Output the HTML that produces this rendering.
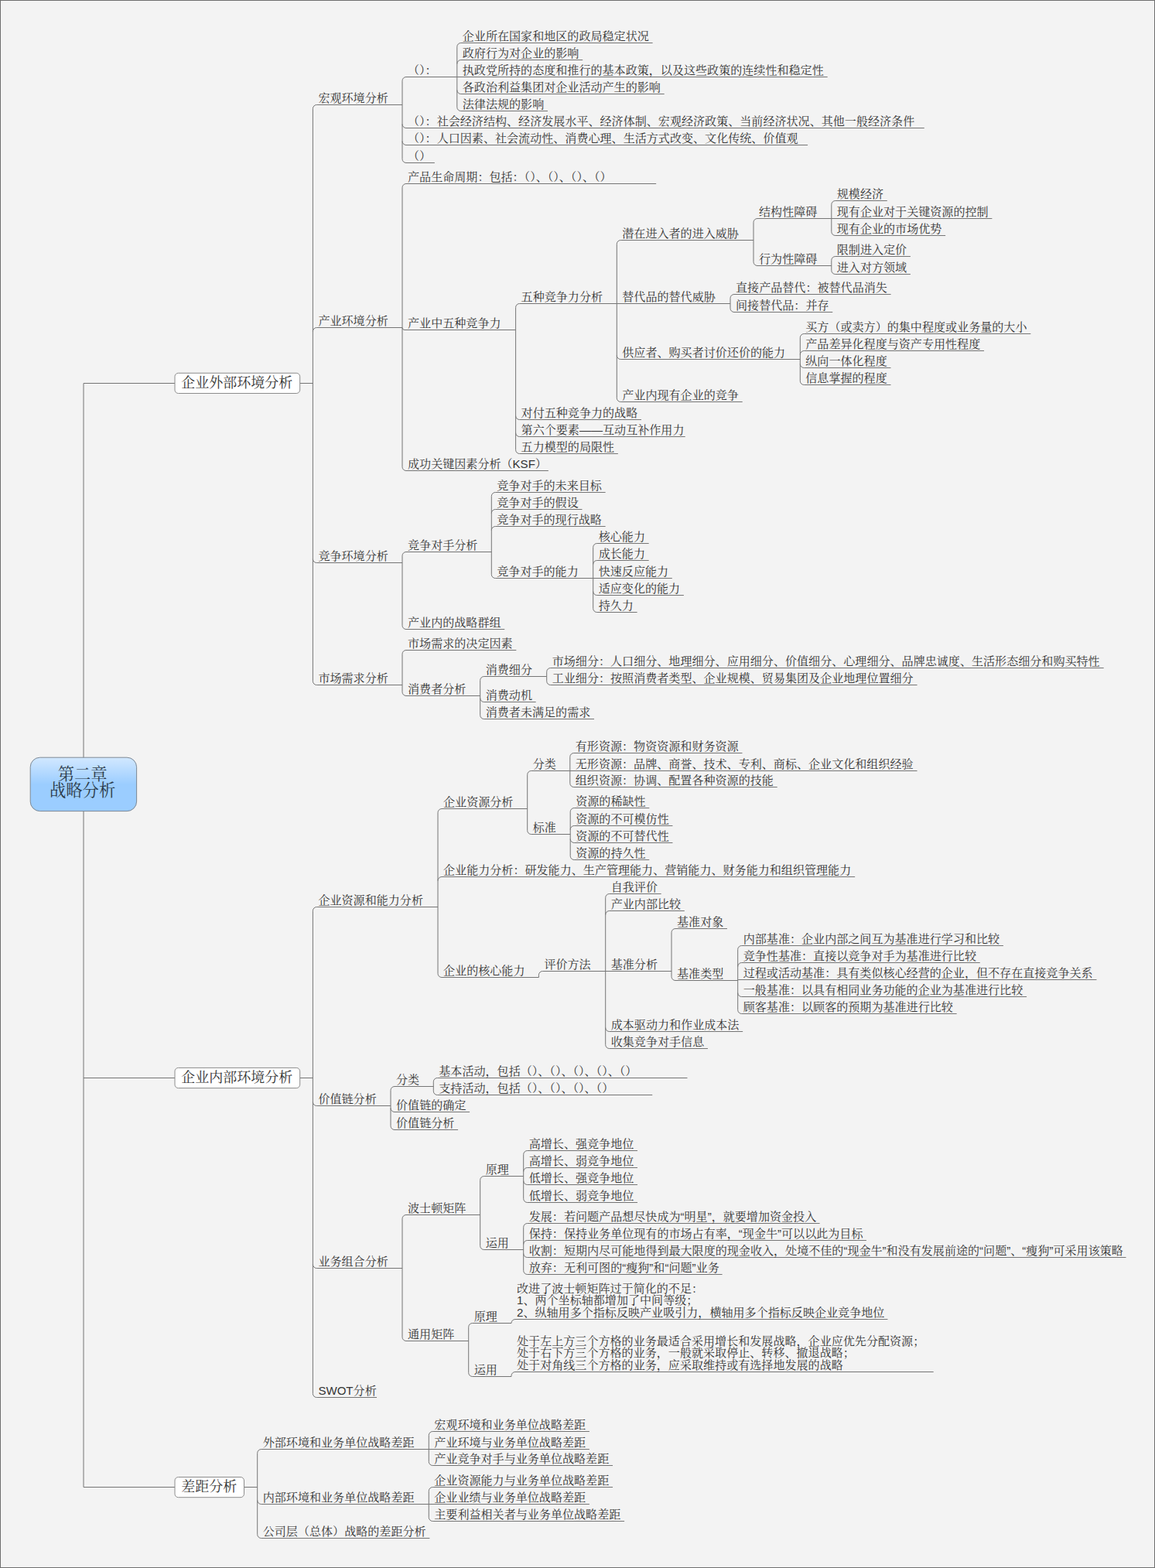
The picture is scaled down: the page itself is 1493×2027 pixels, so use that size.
<!DOCTYPE html>
<html lang="zh"><head><meta charset="utf-8"><title>第二章 战略分析</title>
<style>
html,body{margin:0;padding:0}
body{width:1493px;height:2027px;background:#f3f3f3;position:relative;overflow:hidden;font-family:"Liberation Serif",serif}
#f{position:absolute;left:0;top:0;width:1493px;height:2027px;box-sizing:border-box;border:1px solid #6e6e6e;pointer-events:none}
svg{position:absolute;left:0;top:0}
#t div{position:absolute;white-space:nowrap;color:#333;line-height:1;font-family:"Liberation Sans","Noto Serif CJK SC",serif}
</style></head><body>
<svg width="1493" height="2027" viewBox="0 0 1493 2027">
<defs><linearGradient id="rg" x1="0" y1="0" x2="0" y2="1"><stop offset="0" stop-color="#d2e8ff"/><stop offset="0.5" stop-color="#9bcdff"/><stop offset="1" stop-color="#9bcdff"/></linearGradient></defs>
<path fill="none" stroke="#757575" stroke-width="1" d="M108 495.5H226M387.7 495.5H404.4M404.4 140.5V880.5M404.4 140.5A5 5 0 0 1 409.4 135.5H520M520 104.5V205.5M520 104.5A5 5 0 0 1 525 99.5H590.8M590.8 60.5V138.5M590.8 60.5A5 5 0 0 1 595.8 55.5H843.62M590.8 82.5A5 5 0 0 1 595.8 77.5H753.2M590.8 99.5H1069.67M590.8 116.5A5 5 0 0 0 595.8 121.5H858.69M590.8 138.5A5 5 0 0 0 595.8 143.5H707.99M520 160.5A5 5 0 0 0 525 165.5H1194.78M520 182.5A5 5 0 0 0 525 187.5H1044.08M520 205.5A5 5 0 0 0 525 210.5H561.84M404.4 428.5A5 5 0 0 1 409.4 423.5H520M520 242.5V603.5M520 242.5A5 5 0 0 1 525 237.5H848.17M520 423.5A3 3 0 0 0 523 426.5H666.6M666.6 397.5V581.5M666.6 397.5A5 5 0 0 1 671.6 392.5H797.3M797.3 315.5V514.5M797.3 315.5A5 5 0 0 1 802.3 310.5H974M974 287.5V338.5M974 287.5A5 5 0 0 1 979 282.5H1074.8M1074.8 264.5V299.5M1074.8 264.5A5 5 0 0 1 1079.8 259.5H1146.78M1074.8 282.5H1282.41M1074.8 299.5A5 5 0 0 0 1079.8 304.5H1222.13M974 338.5A5 5 0 0 0 979 343.5H1074.8M1074.8 336.5V349.5M1074.8 336.5A5 5 0 0 1 1079.8 331.5H1176.92M1074.8 349.5A5 5 0 0 0 1079.8 354.5H1176.92M797.3 392.5H944M944 385.5V398.5M944 385.5A5 5 0 0 1 949 380.5H1151.61M944 398.5A5 5 0 0 0 949 403.5H1076.26M797.3 459.5A5 5 0 0 0 802.3 464.5H1034.3M1034.3 436.5V492.5M1034.3 436.5A5 5 0 0 1 1039.3 431.5H1332.33M1034.3 458.5A5 5 0 0 1 1039.3 453.5H1272.05M1034.3 470.5A5 5 0 0 0 1039.3 475.5H1151.49M1034.3 492.5A5 5 0 0 0 1039.3 497.5H1151.49M797.3 514.5A5 5 0 0 0 802.3 519.5H959.7M666.6 537.5A5 5 0 0 0 671.6 542.5H829M666.6 559.5A5 5 0 0 0 671.6 564.5H885.69M666.6 581.5A5 5 0 0 0 671.6 586.5H798.86M520 603.5A5 5 0 0 0 525 608.5H708.87M404.4 722.5A5 5 0 0 0 409.4 727.5H520M520 718.5V808.5M520 718.5A5 5 0 0 1 525 713.5H635.3M635.3 641.5V742.5M635.3 641.5A5 5 0 0 1 640.3 636.5H782.63M635.3 663.5A5 5 0 0 1 640.3 658.5H752.49M635.3 685.5A5 5 0 0 1 640.3 680.5H782.63M635.3 742.5A5 5 0 0 0 640.3 747.5H766.7M766.7 707.5V786.5M766.7 707.5A5 5 0 0 1 771.7 702.5H838.68M766.7 729.5A5 5 0 0 1 771.7 724.5H838.68M766.7 747.5H868.82M766.7 764.5A5 5 0 0 0 771.7 769.5H883.89M766.7 786.5A5 5 0 0 0 771.7 791.5H823.61M520 808.5A5 5 0 0 0 525 813.5H652.26M404.4 880.5A5 5 0 0 0 409.4 885.5H520M520 845.5V894.5M520 845.5A5 5 0 0 1 525 840.5H667.33M520 894.5A5 5 0 0 0 525 899.5H620.7M620.7 879.5V924.5M620.7 879.5A5 5 0 0 1 625.7 874.5H706.7M706.7 868.5V880.5M706.7 868.5A5 5 0 0 1 711.7 863.5H1426.69M706.7 880.5A5 5 0 0 0 711.7 885.5H1185.57M620.7 902.5A5 5 0 0 0 625.7 907.5H692.68M620.7 924.5A5 5 0 0 0 625.7 929.5H768.03M108 1393.5H226M387.7 1393.5H404.4M404.4 1177.5V1801.5M404.4 1177.5A5 5 0 0 1 409.4 1172.5H566M566 1050.5V1258.5M566 1050.5A5 5 0 0 1 571 1045.5H681.7M681.7 1001.5V1073.5M681.7 1001.5A5 5 0 0 1 686.7 996.5H736.8M736.8 978.5V1012.5M736.8 978.5A5 5 0 0 1 741.8 973.5H959.48M736.8 996.5H1185.53M736.8 1012.5A5 5 0 0 0 741.8 1017.5H1004.69M681.7 1073.5A5 5 0 0 0 686.7 1078.5H737.2M737.2 1049.5V1106.5M737.2 1049.5A5 5 0 0 1 742.2 1044.5H839.32M737.2 1072.5A5 5 0 0 1 742.2 1067.5H869.46M737.2 1084.5A5 5 0 0 0 742.2 1089.5H869.46M737.2 1106.5A5 5 0 0 0 742.2 1111.5H839.32M566 1138.5A5 5 0 0 1 571 1133.5H1105.15M566 1258.5A5 5 0 0 0 571 1263.5H696.4M696.4 1263.5V1260.5M696.4 1260.5A5 5 0 0 1 701.4 1255.5H782.7M782.7 1160.5V1350.5M782.7 1160.5A5 5 0 0 1 787.7 1155.5H854.68M782.7 1182.5A5 5 0 0 1 787.7 1177.5H884.82M782.7 1255.5H868M868 1205.5V1262.5M868 1205.5A5 5 0 0 1 873 1200.5H939.98M868 1262.5A5 5 0 0 0 873 1267.5H953.7M953.7 1227.5V1305.5M953.7 1227.5A5 5 0 0 1 958.7 1222.5H1296.94M953.7 1249.5A5 5 0 0 1 958.7 1244.5H1266.8M953.7 1267.5A1 1 0 0 1 954.7 1266.5H1417.5M953.7 1283.5A5 5 0 0 0 958.7 1288.5H1327.08M953.7 1305.5A5 5 0 0 0 958.7 1310.5H1236.66M782.7 1328.5A5 5 0 0 0 787.7 1333.5H960.17M782.7 1350.5A5 5 0 0 0 787.7 1355.5H914.96M404.4 1424.5A5 5 0 0 0 409.4 1429.5H505M505 1409.5V1455.5M505 1409.5A5 5 0 0 1 510 1404.5H560.3M560.3 1398.5V1410.5M560.3 1398.5A5 5 0 0 1 565.3 1393.5H888.47M560.3 1410.5A5 5 0 0 0 565.3 1415.5H843.26M505 1432.5A5 5 0 0 0 510 1437.5H607.12M505 1455.5A5 5 0 0 0 510 1460.5H592.05M404.4 1634.5A5 5 0 0 0 409.4 1639.5H520M520 1575.5V1728.5M520 1575.5A5 5 0 0 1 525 1570.5H620.7M620.7 1525.5V1610.5M620.7 1525.5A5 5 0 0 1 625.7 1520.5H676.7M676.7 1492.5V1549.5M676.7 1492.5A5 5 0 0 1 681.7 1487.5H824.03M676.7 1514.5A5 5 0 0 1 681.7 1509.5H824.03M676.7 1526.5A5 5 0 0 0 681.7 1531.5H824.03M676.7 1549.5A5 5 0 0 0 681.7 1554.5H824.03M620.7 1610.5A5 5 0 0 0 625.7 1615.5H676.7M676.7 1586.5V1642.5M676.7 1586.5A5 5 0 0 1 681.7 1581.5H1059.64M676.7 1608.5A5 5 0 0 1 681.7 1603.5H1119.92M676.7 1620.5A5 5 0 0 0 681.7 1625.5H1455.52M676.7 1642.5A5 5 0 0 0 681.7 1647.5H933.58M520 1728.5A5 5 0 0 0 525 1733.5H605.7M605.7 1715.5V1774.5M605.7 1715.5A5 5 0 0 1 610.7 1710.5H661M661 1710.5V1710.5M661 1710.5A5 5 0 0 1 666 1705.5H1147.44M605.7 1774.5A5 5 0 0 0 610.7 1779.5H661M661 1779.5V1778.5M661 1778.5A5 5 0 0 1 666 1773.5H1206.7M404.4 1801.5A5 5 0 0 0 409.4 1806.5H487.06M108 1922.5H226M315.5 1922.5H332.7M332.7 1878.5V1983.5M332.7 1878.5A5 5 0 0 1 337.7 1873.5H554.3M554.3 1855.5V1889.5M554.3 1855.5A5 5 0 0 1 559.3 1850.5H761.91M554.3 1873.5H761.91M554.3 1889.5A5 5 0 0 0 559.3 1894.5H792.05M332.7 1939.5A5 5 0 0 0 337.7 1944.5H554.3M554.3 1927.5V1961.5M554.3 1927.5A5 5 0 0 1 559.3 1922.5H792.05M554.3 1944.5H761.91M554.3 1961.5A5 5 0 0 0 559.3 1966.5H807.12M332.7 1983.5A5 5 0 0 0 337.7 1988.5H555.38M108 495.5V1922.5"/>
<rect x="226" y="482.3" width="161.7" height="26.2" rx="4.5" fill="#fff" stroke="#8c8c8c" stroke-width="1"/>
<rect x="226" y="1380.4" width="161.7" height="26.2" rx="4.5" fill="#fff" stroke="#8c8c8c" stroke-width="1"/>
<rect x="226" y="1909.5" width="89.5" height="26.2" rx="4.5" fill="#fff" stroke="#8c8c8c" stroke-width="1"/>
<rect x="39.2" y="979.2" width="137.4" height="69.4" rx="12.5" fill="url(#rg)" stroke="#7c8894" stroke-width="1"/>
</svg>
<div id="t">
<div style="left:234.35px;top:485.5px;font-size:18px">企业外部环境分析</div>
<div style="left:411.4px;top:118.64px;font-size:15.07px">宏观环境分析</div>
<div style="left:527px;top:82.64px;font-size:15.07px">（）：</div>
<div style="left:597.8px;top:38.64px;font-size:15.07px">企业所在国家和地区的政局稳定状况</div>
<div style="left:597.8px;top:60.64px;font-size:15.07px">政府行为对企业的影响</div>
<div style="left:597.8px;top:82.64px;font-size:15.07px">执政党所持的态度和推行的基本政策，以及这些政策的连续性和稳定性</div>
<div style="left:597.8px;top:104.64px;font-size:15.07px">各政治利益集团对企业活动产生的影响</div>
<div style="left:597.8px;top:126.64px;font-size:15.07px">法律法规的影响</div>
<div style="left:527px;top:148.64px;font-size:15.07px">（）：社会经济结构、经济发展水平、经济体制、宏观经济政策、当前经济状况、其他一般经济条件</div>
<div style="left:527px;top:170.64px;font-size:15.07px">（）：人口因素、社会流动性、消费心理、生活方式改变、文化传统、价值观</div>
<div style="left:527px;top:193.64px;font-size:15.07px">（）</div>
<div style="left:411.4px;top:406.64px;font-size:15.07px">产业环境分析</div>
<div style="left:527px;top:220.64px;font-size:15.07px">产品生命周期：包括：（）、（）、（）、（）</div>
<div style="left:527px;top:409.64px;font-size:15.07px">产业中五种竞争力</div>
<div style="left:673.6px;top:375.64px;font-size:15.07px">五种竞争力分析</div>
<div style="left:804.3px;top:293.64px;font-size:15.07px">潜在进入者的进入威胁</div>
<div style="left:981px;top:265.64px;font-size:15.07px">结构性障碍</div>
<div style="left:1081.8px;top:242.64px;font-size:15.07px">规模经济</div>
<div style="left:1081.8px;top:265.64px;font-size:15.07px">现有企业对于关键资源的控制</div>
<div style="left:1081.8px;top:287.64px;font-size:15.07px">现有企业的市场优势</div>
<div style="left:981px;top:326.64px;font-size:15.07px">行为性障碍</div>
<div style="left:1081.8px;top:314.64px;font-size:15.07px">限制进入定价</div>
<div style="left:1081.8px;top:337.64px;font-size:15.07px">进入对方领域</div>
<div style="left:804.3px;top:375.64px;font-size:15.07px">替代品的替代威胁</div>
<div style="left:951px;top:363.64px;font-size:15.07px">直接产品替代：被替代品消失</div>
<div style="left:951px;top:386.64px;font-size:15.07px">间接替代品：并存</div>
<div style="left:804.3px;top:447.64px;font-size:15.07px">供应者、购买者讨价还价的能力</div>
<div style="left:1041.3px;top:414.64px;font-size:15.07px">买方（或卖方）的集中程度或业务量的大小</div>
<div style="left:1041.3px;top:436.64px;font-size:15.07px">产品差异化程度与资产专用性程度</div>
<div style="left:1041.3px;top:458.64px;font-size:15.07px">纵向一体化程度</div>
<div style="left:1041.3px;top:480.64px;font-size:15.07px">信息掌握的程度</div>
<div style="left:804.3px;top:502.64px;font-size:15.07px">产业内现有企业的竞争</div>
<div style="left:673.6px;top:525.64px;font-size:15.07px">对付五种竞争力的战略</div>
<div style="left:673.6px;top:547.64px;font-size:15.07px">第六个要素——互动互补作用力</div>
<div style="left:673.6px;top:569.64px;font-size:15.07px">五力模型的局限性</div>
<div style="left:527px;top:591.64px;font-size:15.07px">成功关键因素分析（KSF）</div>
<div style="left:411.4px;top:710.64px;font-size:15.07px">竞争环境分析</div>
<div style="left:527px;top:696.64px;font-size:15.07px">竞争对手分析</div>
<div style="left:642.3px;top:619.64px;font-size:15.07px">竞争对手的未来目标</div>
<div style="left:642.3px;top:641.64px;font-size:15.07px">竞争对手的假设</div>
<div style="left:642.3px;top:663.64px;font-size:15.07px">竞争对手的现行战略</div>
<div style="left:642.3px;top:730.64px;font-size:15.07px">竞争对手的能力</div>
<div style="left:773.7px;top:685.64px;font-size:15.07px">核心能力</div>
<div style="left:773.7px;top:707.64px;font-size:15.07px">成长能力</div>
<div style="left:773.7px;top:730.64px;font-size:15.07px">快速反应能力</div>
<div style="left:773.7px;top:752.64px;font-size:15.07px">适应变化的能力</div>
<div style="left:773.7px;top:774.64px;font-size:15.07px">持久力</div>
<div style="left:527px;top:796.64px;font-size:15.07px">产业内的战略群组</div>
<div style="left:411.4px;top:868.64px;font-size:15.07px">市场需求分析</div>
<div style="left:527px;top:823.64px;font-size:15.07px">市场需求的决定因素</div>
<div style="left:527px;top:882.64px;font-size:15.07px">消费者分析</div>
<div style="left:627.7px;top:857.64px;font-size:15.07px">消费细分</div>
<div style="left:713.7px;top:846.64px;font-size:15.07px">市场细分：人口细分、地理细分、应用细分、价值细分、心理细分、品牌忠诚度、生活形态细分和购买特性</div>
<div style="left:713.7px;top:868.64px;font-size:15.07px">工业细分：按照消费者类型、企业规模、贸易集团及企业地理位置细分</div>
<div style="left:627.7px;top:890.64px;font-size:15.07px">消费动机</div>
<div style="left:627.7px;top:912.64px;font-size:15.07px">消费者未满足的需求</div>
<div style="left:234.35px;top:1383.6px;font-size:18px">企业内部环境分析</div>
<div style="left:411.4px;top:1155.64px;font-size:15.07px">企业资源和能力分析</div>
<div style="left:573px;top:1028.64px;font-size:15.07px">企业资源分析</div>
<div style="left:688.7px;top:979.64px;font-size:15.07px">分类</div>
<div style="left:743.8px;top:956.64px;font-size:15.07px">有形资源：物资资源和财务资源</div>
<div style="left:743.8px;top:979.64px;font-size:15.07px">无形资源：品牌、商誉、技术、专利、商标、企业文化和组织经验</div>
<div style="left:743.8px;top:1000.64px;font-size:15.07px">组织资源：协调、配置各种资源的技能</div>
<div style="left:688.7px;top:1061.64px;font-size:15.07px">标准</div>
<div style="left:744.2px;top:1027.64px;font-size:15.07px">资源的稀缺性</div>
<div style="left:744.2px;top:1050.64px;font-size:15.07px">资源的不可模仿性</div>
<div style="left:744.2px;top:1072.64px;font-size:15.07px">资源的不可替代性</div>
<div style="left:744.2px;top:1094.64px;font-size:15.07px">资源的持久性</div>
<div style="left:573px;top:1116.64px;font-size:15.07px">企业能力分析：研发能力、生产管理能力、营销能力、财务能力和组织管理能力</div>
<div style="left:573px;top:1246.64px;font-size:15.07px">企业的核心能力</div>
<div style="left:703.4px;top:1238.64px;font-size:15.07px">评价方法</div>
<div style="left:789.7px;top:1138.64px;font-size:15.07px">自我评价</div>
<div style="left:789.7px;top:1160.64px;font-size:15.07px">产业内部比较</div>
<div style="left:789.7px;top:1238.64px;font-size:15.07px">基准分析</div>
<div style="left:875px;top:1183.64px;font-size:15.07px">基准对象</div>
<div style="left:875px;top:1250.64px;font-size:15.07px">基准类型</div>
<div style="left:960.7px;top:1205.64px;font-size:15.07px">内部基准：企业内部之间互为基准进行学习和比较</div>
<div style="left:960.7px;top:1227.64px;font-size:15.07px">竞争性基准：直接以竞争对手为基准进行比较</div>
<div style="left:960.7px;top:1249.64px;font-size:15.07px">过程或活动基准：具有类似核心经营的企业，但不存在直接竞争关系</div>
<div style="left:960.7px;top:1271.64px;font-size:15.07px">一般基准：以具有相同业务功能的企业为基准进行比较</div>
<div style="left:960.7px;top:1293.64px;font-size:15.07px">顾客基准：以顾客的预期为基准进行比较</div>
<div style="left:789.7px;top:1316.64px;font-size:15.07px">成本驱动力和作业成本法</div>
<div style="left:789.7px;top:1338.64px;font-size:15.07px">收集竞争对手信息</div>
<div style="left:411.4px;top:1412.64px;font-size:15.07px">价值链分析</div>
<div style="left:512px;top:1387.64px;font-size:15.07px">分类</div>
<div style="left:567.3px;top:1376.64px;font-size:15.07px">基本活动，包括（）、（）、（）、（）、（）</div>
<div style="left:567.3px;top:1398.64px;font-size:15.07px">支持活动，包括（）、（）、（）、（）</div>
<div style="left:512px;top:1420.64px;font-size:15.07px">价值链的确定</div>
<div style="left:512px;top:1443.64px;font-size:15.07px">价值链分析</div>
<div style="left:411.4px;top:1622.64px;font-size:15.07px">业务组合分析</div>
<div style="left:527px;top:1553.64px;font-size:15.07px">波士顿矩阵</div>
<div style="left:627.7px;top:1503.64px;font-size:15.07px">原理</div>
<div style="left:683.7px;top:1470.64px;font-size:15.07px">高增长、强竞争地位</div>
<div style="left:683.7px;top:1492.64px;font-size:15.07px">高增长、弱竞争地位</div>
<div style="left:683.7px;top:1514.64px;font-size:15.07px">低增长、强竞争地位</div>
<div style="left:683.7px;top:1537.64px;font-size:15.07px">低增长、弱竞争地位</div>
<div style="left:627.7px;top:1598.64px;font-size:15.07px">运用</div>
<div style="left:683.7px;top:1564.64px;font-size:15.07px">发展：若问题产品想尽快成为“明星”，就要增加资金投入</div>
<div style="left:683.7px;top:1586.64px;font-size:15.07px">保持：保持业务单位现有的市场占有率，“现金牛”可以以此为目标</div>
<div style="left:683.7px;top:1608.64px;font-size:15.07px">收割：短期内尽可能地得到最大限度的现金收入，处境不佳的“现金牛”和没有发展前途的“问题”、“瘦狗”可采用该策略</div>
<div style="left:683.7px;top:1630.64px;font-size:15.07px">放弃：无利可图的“瘦狗”和“问题”业务</div>
<div style="left:527px;top:1716.64px;font-size:15.07px">通用矩阵</div>
<div style="left:612.7px;top:1693.64px;font-size:15.07px">原理</div>
<div style="left:668px;top:1658.04px;font-size:15.07px">改进了波士顿矩阵过于简化的不足：</div>
<div style="left:668px;top:1673.34px;font-size:15.07px">1、两个坐标轴都增加了中间等级；</div>
<div style="left:668px;top:1688.64px;font-size:15.07px">2、纵轴用多个指标反映产业吸引力，横轴用多个指标反映企业竞争地位</div>
<div style="left:612.7px;top:1762.64px;font-size:15.07px">运用</div>
<div style="left:668px;top:1726.04px;font-size:15.07px">处于左上方三个方格的业务最适合采用增长和发展战略，企业应优先分配资源；</div>
<div style="left:668px;top:1741.34px;font-size:15.07px">处于右下方三个方格的业务，一般就采取停止、转移、撤退战略；</div>
<div style="left:668px;top:1756.64px;font-size:15.07px">处于对角线三个方格的业务，应采取维持或有选择地发展的战略</div>
<div style="left:411.4px;top:1789.64px;font-size:15.07px">SWOT分析</div>
<div style="left:234.25px;top:1912.7px;font-size:18px">差距分析</div>
<div style="left:339.7px;top:1856.64px;font-size:15.07px">外部环境和业务单位战略差距</div>
<div style="left:561.3px;top:1833.64px;font-size:15.07px">宏观环境和业务单位战略差距</div>
<div style="left:561.3px;top:1856.64px;font-size:15.07px">产业环境与业务单位战略差距</div>
<div style="left:561.3px;top:1877.64px;font-size:15.07px">产业竞争对手与业务单位战略差距</div>
<div style="left:339.7px;top:1927.64px;font-size:15.07px">内部环境和业务单位战略差距</div>
<div style="left:561.3px;top:1905.64px;font-size:15.07px">企业资源能力与业务单位战略差距</div>
<div style="left:561.3px;top:1927.64px;font-size:15.07px">企业业绩与业务单位战略差距</div>
<div style="left:561.3px;top:1949.64px;font-size:15.07px">主要利益相关者与业务单位战略差距</div>
<div style="left:339.7px;top:1971.64px;font-size:15.07px">公司层（总体）战略的差距分析</div>
<div style="left:74.65px;top:990.56px;font-size:21.3px;color:#2b3a48">第二章</div>
<div style="left:64px;top:1011.76px;font-size:21.3px;color:#2b3a48">战略分析</div>
</div>
<div id="f"></div>
</body></html>
